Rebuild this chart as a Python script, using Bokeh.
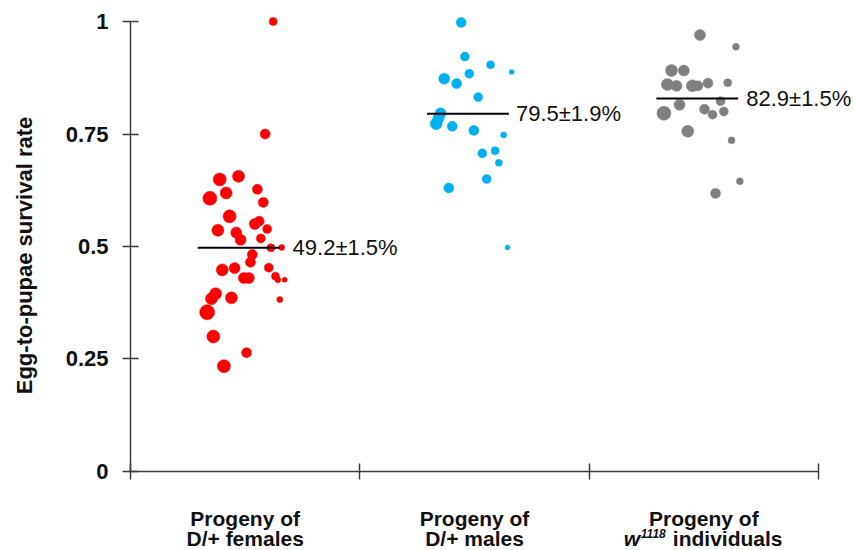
import math
from bokeh.plotting import figure
from bokeh.models import (Range1d, FixedTicker, NumeralTickFormatter, Label,
                          ColumnDataSource, CustomJSTickFormatter)
from bokeh.embed import file_html
from bokeh.resources import INLINE

# ---------------- data ----------------
categories = ["Progeny of D/+ females", "Progeny of D/+ males", "Progeny of w1118 individuals"]
colors = ["#FF0000", "#00B0F0", "#808080"]

# survival rate per replicate, jitter offset (category units), marker diameter (px)
females_y = [1.000, 0.750, 0.649, 0.656, 0.627, 0.607, 0.619, 0.598, 0.567, 0.550,
             0.556, 0.536, 0.531, 0.515, 0.539, 0.518, 0.497, 0.498, 0.482, 0.465,
             0.448, 0.452, 0.430, 0.430, 0.453, 0.434, 0.426, 0.426, 0.382, 0.386,
             0.395, 0.384, 0.354, 0.300, 0.264, 0.234]
females_jit = [0.122, 0.087, -0.111, -0.029, 0.053, -0.154, -0.083, 0.079, -0.068, 0.042,
               0.061, -0.119, -0.039, -0.020, 0.096, 0.068, 0.112, 0.159, 0.031, 0.023,
               -0.100, -0.046, -0.006, 0.016, 0.103, 0.132, 0.142, 0.172, 0.151, -0.060,
               -0.129, -0.147, -0.166, -0.139, 0.006, -0.093]
females_size = [8, 10, 13, 12, 10, 14, 12, 10, 13, 11,
                10, 12, 11, 11, 9, 9, 8, 6, 10, 10,
                12, 11, 11, 11, 9, 8, 6, 5, 6, 12,
                12, 12, 15, 13, 10, 13]

males_y = [0.998, 0.922, 0.904, 0.888, 0.873, 0.884, 0.862, 0.832, 0.796, 0.773,
           0.767, 0.758, 0.748, 0.707, 0.713, 0.686, 0.650, 0.630, 0.498, 0.785]
males_jit = [-0.058, -0.042, 0.070, 0.162, -0.132, -0.023, -0.078, 0.016, -0.148, -0.167,
             -0.097, -0.003, 0.127, 0.034, 0.090, 0.106, 0.053, -0.112, 0.144, -0.157]
males_size = [10, 9, 8, 5, 11, 9, 10, 9, 11, 12,
              10, 10, 6, 9, 8, 7, 9, 10, 5, 11]

w1118_y = [0.970, 0.944, 0.891, 0.891, 0.860, 0.857, 0.857, 0.857, 0.863, 0.864,
           0.796, 0.815, 0.805, 0.793, 0.823, 0.800, 0.756, 0.736, 0.645, 0.618]
w1118_jit = [-0.017, 0.140, -0.141, -0.087, -0.159, -0.119, -0.050, -0.026, 0.018, 0.104,
             -0.174, -0.106, 0.003, 0.038, 0.073, 0.087, -0.070, 0.121, 0.157, 0.051]
w1118_size = [11, 7, 12, 11, 12, 11, 12, 10, 10, 8,
              14, 11, 10, 9, 9, 9, 12, 7, 7, 10]

mean_pos = [0.497, 0.795, 0.829]
mean_text = ["49.2±1.5%", "79.5±1.9%", "82.9±1.5%"]

y_ticks = [0, 0.25, 0.5, 0.75, 1]
y_title = "Egg-to-pupae survival rate"

groups = [(females_y, females_jit, females_size),
          (males_y, males_jit, males_size),
          (w1118_y, w1118_jit, w1118_size)]

# ---------------- figure ----------------
W, H = 854, 550
p = figure(width=W, height=H, output_backend="svg", toolbar_location=None,
           x_range=Range1d(-0.567, 3.157), y_range=Range1d(-0.1756, 1.0467),
           min_border=0, min_border_left=0, min_border_right=0,
           min_border_top=0, min_border_bottom=0)
p.outline_line_color = None
p.xgrid.visible = False
p.ygrid.visible = False
p.background_fill_color = "white"
p.border_fill_color = "white"

AX = "#3c3c3c"
# y axis
p.yaxis.fixed_location = 0
p.yaxis.bounds = (0, 1)
p.yaxis.ticker = FixedTicker(ticks=y_ticks)
p.yaxis.formatter = NumeralTickFormatter(format="0.[00]")
p.yaxis.major_tick_in = 8
p.yaxis.major_tick_out = 8
p.yaxis.minor_tick_line_color = None
p.yaxis.axis_line_color = AX
p.yaxis.axis_line_width = 1.5
p.yaxis.major_tick_line_color = AX
p.yaxis.major_tick_line_width = 1.5
p.yaxis.major_label_text_font = "Liberation Sans"
p.yaxis.major_label_text_font_style = "bold"
p.yaxis.major_label_text_font_size = "22px"
p.yaxis.major_label_text_color = "#111111"
p.yaxis.major_label_standoff = 14

# x axis
p.xaxis.fixed_location = 0
p.xaxis.bounds = (0, 3)
p.xaxis.ticker = FixedTicker(ticks=[0, 1, 2, 3])
p.xaxis.formatter = CustomJSTickFormatter(code="return ''")
p.xaxis.major_tick_in = 8
p.xaxis.major_tick_out = 8
p.xaxis.minor_tick_line_color = None
p.xaxis.axis_line_color = AX
p.xaxis.axis_line_width = 1.5
p.xaxis.major_tick_line_color = AX
p.xaxis.major_tick_line_width = 1.5

# points
for i, (ys, jit, sz) in enumerate(groups):
    src = ColumnDataSource(dict(x=[i + 0.5 + j for j in jit], y=ys, s=sz))
    p.scatter("x", "y", size="s", source=src, fill_color=colors[i],
              line_color=colors[i], line_width=0.5)

# mean lines and labels
label_gap = [13, 7, 8]
for i, m in enumerate(mean_pos):
    p.segment(x0=[i + 0.5 - 0.207], y0=[m], x1=[i + 0.5 + 0.15], y1=[m],
              line_color="black", line_width=2)
    p.add_layout(Label(x=i + 0.5 + 0.15, y=m, x_offset=label_gap[i], text=mean_text[i],
                       text_baseline="middle", text_align="left",
                       text_font="Liberation Sans", text_font_size="22px",
                       text_color="#111111"))

# y axis title
p.add_layout(Label(x=24, y=H - 255, x_units="screen", y_units="screen",
                   text=y_title, angle=math.pi / 2, text_align="center",
                   text_baseline="middle", text_font="Liberation Sans",
                   text_font_style="bold", text_font_size="22px", text_color="#111111"))

# category labels
def cat_label(x, text, y, xoff=0, size="21px", style="bold", align="center"):
    p.add_layout(Label(x=x, y=y, x_units="data", y_units="screen", x_offset=xoff,
                       text=text, text_align=align, text_baseline="alphabetic",
                       text_font="Liberation Sans", text_font_style=style,
                       text_font_size=size, text_color="#111111"))

line1 = ["Progeny of", "Progeny of", "Progeny of"]
line2 = ["D/+ females", "D/+ males", None]
for i in range(3):
    cat_label(i + 0.5, line1[i], 32)
    if line2[i]:
        cat_label(i + 0.5, line2[i], 12)
cat_label(2.5, "w", 12, xoff=-80, align="left", style="bold italic")
cat_label(2.5, "1118", 17, xoff=-63, align="left", style="bold italic", size="12px")
cat_label(2.5, "individuals", 12, xoff=-31, align="left")

open("out.html", "w").write(file_html(p, INLINE))
